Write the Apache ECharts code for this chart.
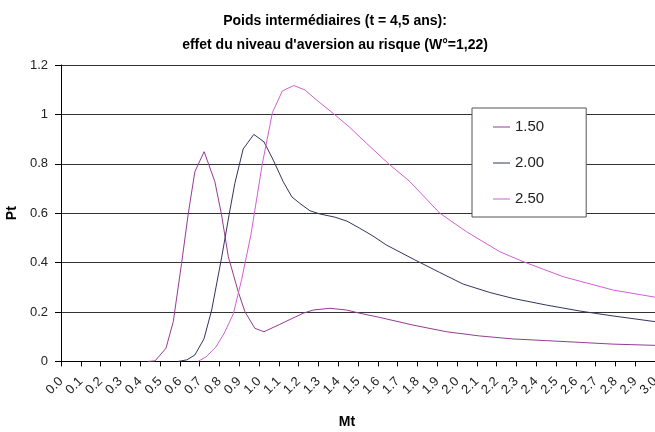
<!DOCTYPE html>
<html>
<head>
<meta charset="utf-8">
<script src="https://cdn.jsdelivr.net/npm/echarts@6/dist/echarts.min.js"></script>
<style>
html,body{margin:0;padding:0;background:#fff;}
#chart{width:655px;height:432px;}
</style>
</head>
<body>
<div id="chart"></div>
<script>
const seriesNames = ['1.50', '2.00', '2.50'];

const mt150 = [0.441,0.475,0.530,0.567,0.609,0.643,0.676,0.723,0.777,0.811,0.845,0.895,0.929,0.979,1.025,1.105,1.223,1.274,1.358,1.442,1.509,1.610,1.778,1.947,2.115,2.282,2.452,2.620,2.788,3.0];
const pt150 = [0,0.002,0.053,0.161,0.397,0.600,0.768,0.849,0.728,0.593,0.424,0.282,0.201,0.134,0.120,0.150,0.195,0.208,0.215,0.208,0.195,0.178,0.147,0.120,0.103,0.091,0.084,0.077,0.070,0.065];

const mt200 = [0.592,0.635,0.676,0.722,0.761,0.811,0.848,0.878,0.920,0.974,1.025,1.072,1.122,1.166,1.206,1.257,1.307,1.383,1.444,1.509,1.575,1.644,1.787,1.913,2.031,2.166,2.283,2.452,2.620,2.788,3.0];
const pt200 = [0,0.006,0.026,0.091,0.208,0.419,0.589,0.721,0.860,0.919,0.889,0.815,0.728,0.666,0.640,0.610,0.597,0.584,0.568,0.539,0.508,0.471,0.411,0.360,0.313,0.279,0.255,0.228,0.204,0.184,0.161];

const mt250 = [0.692,0.732,0.782,0.825,0.870,0.912,0.959,1.017,1.068,1.118,1.176,1.232,1.291,1.375,1.459,1.543,1.652,1.762,1.913,2.048,2.216,2.334,2.536,2.788,3.0];
const pt250 = [0,0.018,0.058,0.115,0.192,0.330,0.512,0.801,1.008,1.095,1.117,1.099,1.058,1.004,0.947,0.883,0.802,0.728,0.600,0.525,0.444,0.404,0.343,0.289,0.260];

const titleLines = ['Poids intermédiaires (t = 4,5 ans):', "effet du niveau d'aversion au risque (W°=1,22)"];
const xName = 'Mt';
const yName = 'Pt';

function pairs(xs, ys) { return xs.map((x, i) => [x, ys[i]]); }

const FONT = 'Arial, "Liberation Sans", sans-serif';
const colors = ['#953b95', '#34345f', '#d35ed3'];

const chart = echarts.init(document.getElementById('chart'), null, {renderer: 'canvas'});
chart.setOption({
  animation: false,
  backgroundColor: '#ffffff',
  color: colors,
  title: {
    text: titleLines.join('\n'),
    left: 330,
    textAlign: 'center',
    top: 4,
    textStyle: {fontFamily: FONT, fontSize: 14, fontWeight: 'bold', color: '#000', lineHeight: 24}
  },
  legend: {
    orient: 'vertical',
    left: 472,
    top: 108,
    padding: [10, 42, 9, 21],
    itemGap: 18,
    itemWidth: 17,
    itemHeight: 1,
    itemTextGap: 10,
    icon: 'rect',
    backgroundColor: '#fff',
    borderColor: '#555',
    borderWidth: 1,
    data: seriesNames,
    textStyle: {fontFamily: FONT, fontSize: 15, color: '#222', lineHeight: 18}
  },
  grid: {left: 61, right: 0, top: 65, bottom: 70.6, containLabel: false, outerBoundsMode: 'none'},
  xAxis: {
    type: 'value',
    min: 0, max: 3, interval: 0.1,
    name: xName,
    nameLocation: 'middle',
    nameGap: 54,
    nameTextStyle: {fontFamily: FONT, fontSize: 14, fontWeight: 'bold', color: '#000', padding: [0, 22, 0, 0]},
    axisLine: {show: true, onZero: false, lineStyle: {color: '#000', width: 1}},
    axisTick: {show: true, inside: false, length: 5, lineStyle: {color: '#000'}},
    axisLabel: {
      rotate: 45, margin: 18, fontFamily: FONT, fontSize: 13, color: '#222',
      showMinLabel: true, showMaxLabel: true,
      formatter: v => v.toFixed(1)
    },
    splitLine: {show: false}
  },
  yAxis: {
    type: 'value',
    min: 0, max: 1.2, interval: 0.2,
    name: yName,
    nameLocation: 'middle',
    nameGap: 33,
    nameRotate: 90,
    nameTextStyle: {fontFamily: FONT, fontSize: 14, fontWeight: 'bold', color: '#000'},
    axisLine: {show: true, lineStyle: {color: '#000', width: 1}},
    axisTick: {show: true, inside: false, length: 6, lineStyle: {color: '#000'}},
    axisLabel: {margin: 13, fontFamily: FONT, fontSize: 13, color: '#222',
      formatter: v => String(Math.round(v * 10) / 10)},
    splitLine: {show: true, lineStyle: {color: '#333', width: 1}}
  },
  series: [
    {name: seriesNames[0], type: 'line', data: pairs(mt150, pt150), showSymbol: false, symbol: 'none', lineStyle: {width: 1}},
    {name: seriesNames[1], type: 'line', data: pairs(mt200, pt200), showSymbol: false, symbol: 'none', lineStyle: {width: 1}},
    {name: seriesNames[2], type: 'line', data: pairs(mt250, pt250), showSymbol: false, symbol: 'none', lineStyle: {width: 1}}
  ]
});
</script>
</body>
</html>
